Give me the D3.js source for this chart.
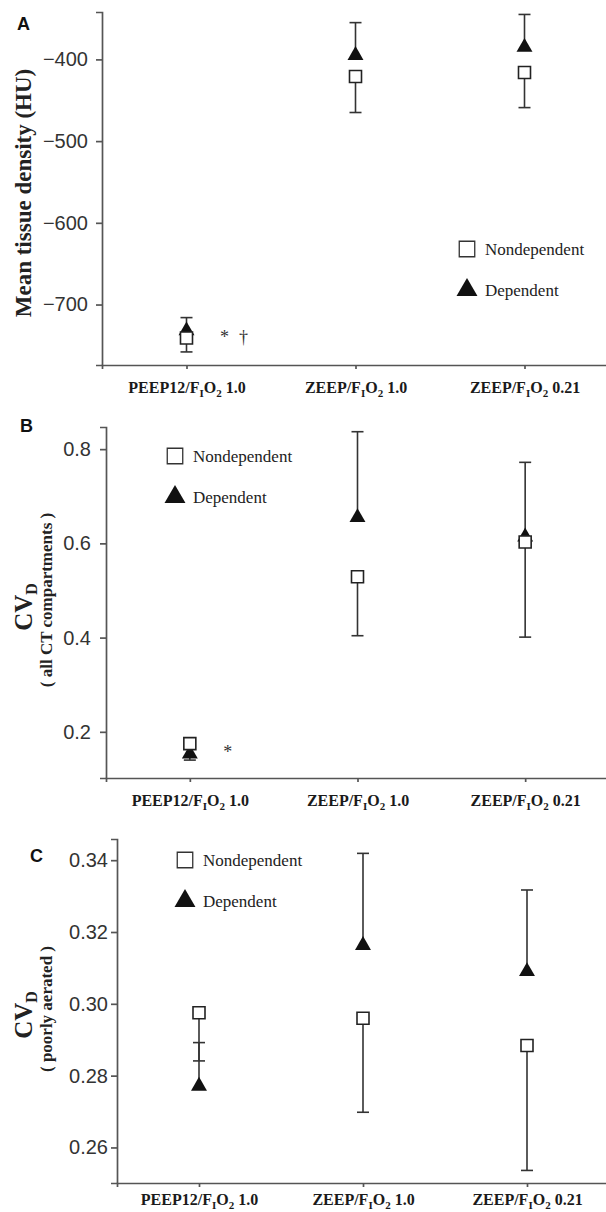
<html>
  <head>
    <meta charset="utf-8">
    <script src="https://cdn.jsdelivr.net/npm/d3@7/dist/d3.min.js"></script>
    <style>
      body { margin: 0px; background: #fff; }
      .axis .domain, .axis .tick line { stroke: #555; stroke-width: 1.7px; }
      .y-axis .tick text { font-family: "Liberation Sans", Arial, sans-serif; font-size: 20px; fill: #333; }
      .x-axis .tick text { font-family: "Liberation Serif", "Times New Roman", serif; font-weight: bold; font-size: 16px; fill: #1a1a1a; }
      .panel-letter { font-family: "Liberation Sans", Arial, sans-serif; font-weight: bold; font-size: 18px; fill: #111; }
      .ytitle { font-family: "Liberation Serif", "Times New Roman", serif; font-weight: bold; fill: #222; }
      .legend text { font-family: "Liberation Serif", "Times New Roman", serif; font-size: 17px; fill: #222; }
      .errbar { stroke: #333; stroke-width: 1.6px; fill: none; }
      .note { font-family: "Liberation Serif", "Times New Roman", serif; font-size: 18px; fill: #333; }
    </style>
  </head>
  <body>
    <svg width="606" height="1212"></svg>
    <script>
      // conditions on the x axis (F_IO_2 written with subscripts when drawn)
      var conditions = ['PEEP12', 'ZEEP', 'ZEEP'];
      var fio2 = ['1.0', '1.0', '0.21'];

      // A: mean tissue density (HU)
      var densityNondep = [-741, -421, -416];
      var densityNondepLow = [-758, -465, -459];
      var densityDep = [-732, -395, -385];
      var densityDepHigh = [-716, -355, -345];
      var densityTicks = [-700, -600, -500, -400];

      // B: CV_D, all CT compartments
      var cvAllNondep = [0.175, 0.529, 0.603];
      var cvAllNondepLow = [0.140, 0.404, 0.401];
      var cvAllDep = [0.153, 0.655, 0.614];
      var cvAllDepHigh = [0.165, 0.837, 0.772];
      var cvAllTicks = [0.2, 0.4, 0.6, 0.8];

      // C: CV_D, poorly aerated
      var cvPoorNondep = [0.2975, 0.2960, 0.2884];
      var cvPoorNondepLow = [0.2841, 0.2698, 0.2536];
      var cvPoorDep = [0.2771, 0.3163, 0.3090];
      var cvPoorDepHigh = [0.2892, 0.3419, 0.3317];
      var cvPoorTicks = [0.26, 0.28, 0.30, 0.32, 0.34];

      var legendLabels = ['Nondependent', 'Dependent'];

      var svg = d3.select('svg');
      var W = +svg.attr('width');

      var panels = [
        { letter: 'A', lx: 17, ly: 30, left: 102, top: 12, bottom: 365,
          domain: [-774, -342], ticks: densityTicks, fmt: d3.format('d'), tickPad: 8, xPad: 9,
          nondep: densityNondep, nondepLow: densityNondepLow, dep: densityDep, depHigh: densityDepHigh,
          title: 'Mean tissue density (HU)', titleX: 31, titleY: 193,
          legendX: 467, legendY: 249, notes: ['*', '\u2020'] },
        { letter: 'B', lx: 20, ly: 432, left: 106, top: 427, bottom: 778,
          domain: [0.102, 0.847], ticks: cvAllTicks, fmt: d3.format('.1f'), tickPad: 9, xPad: 9,
          nondep: cvAllNondep, nondepLow: cvAllNondepLow, dep: cvAllDep, depHigh: cvAllDepHigh,
          cv: true, sub: '( all CT compartments )', titleY: 607, subY: 600,
          legendX: 175, legendY: 456, notes: ['*'] },
        { letter: 'C', lx: 30, ly: 862, left: 117, top: 839, bottom: 1183,
          domain: [0.2501, 0.3459], ticks: cvPoorTicks, fmt: d3.format('.2f'), tickPad: 3, xPad: 3,
          nondep: cvPoorNondep, nondepLow: cvPoorNondepLow, dep: cvPoorDep, depHigh: cvPoorDepHigh,
          cv: true, sub: '( poorly aerated )', titleY: 1015, subY: 1009,
          legendX: 185, legendY: 860, notes: [] }
      ];

      var square = d3.symbol().type(d3.symbolSquare).size(144);
      var triangle = d3.symbol().type(d3.symbolTriangle).size(110);
      var bigSquare = d3.symbol().type(d3.symbolSquare).size(240);
      var bigTriangle = d3.symbol().type(d3.symbolTriangle).size(190);

      panels.forEach(function (p) {
        var g = svg.append('g');
        var x = d3.scalePoint().domain(d3.range(conditions.length))
          .range([p.left, W + 3]).padding(0.5);
        var y = d3.scaleLinear().domain(p.domain).range([p.bottom, p.top]);

        // axes
        g.append('g').attr('class', 'axis y-axis')
          .attr('transform', 'translate(' + p.left + ',0)')
          .call(d3.axisLeft(y).tickValues(p.ticks).tickFormat(p.fmt)
            .tickSizeOuter(0).tickSize(6).tickPadding(p.tickPad));

        var xg = g.append('g').attr('class', 'axis x-axis')
          .attr('transform', 'translate(0,' + p.bottom + ')')
          .call(d3.axisBottom(x).tickSizeOuter(0).tickSize(4).tickPadding(p.xPad));
        xg.selectAll('.tick text').each(function (i) {
          var t = d3.select(this).text('').attr('dy', '0.95em');
          t.append('tspan').text(conditions[i] + '/F');
          t.append('tspan').attr('font-size', '11px').attr('dy', 3.5).text('I');
          t.append('tspan').attr('dy', -3.5).text('O');
          t.append('tspan').attr('font-size', '11px').attr('dy', 3.5).text('2');
          t.append('tspan').attr('dy', -3.5).text(' ' + fio2[i]);
        });

        // panel letter
        g.append('text').attr('class', 'panel-letter')
          .attr('x', p.lx).attr('y', p.ly).text(p.letter);

        // y titles
        if (!p.cv) {
          g.append('text').attr('class', 'ytitle')
            .attr('transform', 'translate(' + p.titleX + ',' + p.titleY + ') rotate(-90)')
            .attr('text-anchor', 'middle').attr('font-size', '23px')
            .text(p.title);
        } else {
          var cvT = g.append('text').attr('class', 'ytitle')
            .attr('transform', 'translate(32,' + p.titleY + ') rotate(-90)')
            .attr('text-anchor', 'middle').attr('font-size', '25px');
          cvT.append('tspan').text('CV');
          cvT.append('tspan').attr('font-size', '16px').attr('dy', 5).text('D');
          g.append('text').attr('class', 'ytitle')
            .attr('transform', 'translate(52,' + p.subY + ') rotate(-90)')
            .attr('text-anchor', 'middle').attr('font-size', '17px')
            .text(p.sub);
        }

        // error bars: nondependent downward, dependent upward
        var idx = d3.range(conditions.length);
        function bars(mean, end) {
          var eg = g.append('g');
          eg.selectAll('line.v').data(idx).enter().append('line')
            .attr('class', 'errbar v')
            .attr('x1', function (i) { return x(i); })
            .attr('x2', function (i) { return x(i); })
            .attr('y1', function (i) { return y(mean[i]); })
            .attr('y2', function (i) { return y(end[i]); });
          eg.selectAll('line.c').data(idx).enter().append('line')
            .attr('class', 'errbar c')
            .attr('x1', function (i) { return x(i) - 6; })
            .attr('x2', function (i) { return x(i) + 6; })
            .attr('y1', function (i) { return y(end[i]); })
            .attr('y2', function (i) { return y(end[i]); });
        }
        bars(p.nondep, p.nondepLow);
        bars(p.dep, p.depHigh);

        // markers
        g.selectAll('path.dep').data(idx).enter().append('path')
          .attr('class', 'dep')
          .attr('d', triangle)
          .attr('fill', '#111')
          .attr('transform', function (i) { return 'translate(' + x(i) + ',' + y(p.dep[i]) + ')'; });
        g.selectAll('path.nondep').data(idx).enter().append('path')
          .attr('class', 'nondep')
          .attr('d', square)
          .attr('fill', '#fff').attr('stroke', '#222').attr('stroke-width', 1.6)
          .attr('transform', function (i) { return 'translate(' + x(i) + ',' + y(p.nondep[i]) + ')'; });

        // significance marks next to PEEP12
        g.selectAll('text.note').data(p.notes).enter().append('text')
          .attr('class', 'note')
          .attr('x', function (d, k) { return x(0) + 38 + k * 19; })
          .attr('y', y(d3.mean([p.nondep[0], p.dep[0]])))
          .attr('dy', '0.5em')
          .attr('text-anchor', 'middle')
          .text(function (d) { return d; });

        // legend
        var lg = g.append('g').attr('class', 'legend')
          .attr('transform', 'translate(' + p.legendX + ',' + p.legendY + ')');
        lg.append('path').attr('d', bigSquare)
          .attr('fill', '#fff').attr('stroke', '#333').attr('stroke-width', 1.3);
        lg.append('path').attr('d', bigTriangle).attr('fill', '#111')
          .attr('transform', 'translate(0,41)');
        lg.selectAll('text').data(legendLabels).enter().append('text')
          .attr('x', 18)
          .attr('y', function (d, k) { return k * 41; })
          .attr('dy', '0.35em')
          .text(function (d) { return d; });
      });
    </script>
  </body>
</html>
